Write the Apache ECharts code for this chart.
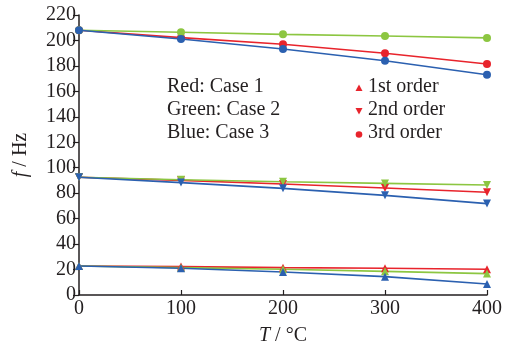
<!DOCTYPE html>
<html><head><meta charset="utf-8">
<script src="https://cdn.jsdelivr.net/npm/echarts@6/dist/echarts.min.js"></script>
<style>html,body{margin:0;padding:0;background:#fff}#c{width:513px;height:343px}</style>
</head><body><div id="c"></div>
<script>
const temps = [0, 100, 200, 300, 400];
// 1st order (triangle up)
const case1_1st = [22.8, 22.3, 21.5, 21.0, 20.2];
const case2_1st = [22.8, 21.5, 20.2, 18.6, 16.8];
const case3_1st = [22.8, 21.0, 18.1, 14.4, 8.6];
// 2nd order (triangle down)
const case1_2nd = [92.5, 90.1, 87.2, 84.1, 80.7];
const case2_2nd = [92.5, 90.6, 89.0, 87.7, 86.4];
const case3_2nd = [92.5, 88.3, 83.8, 78.3, 71.8];
// 3rd order (circle)
const case1_3rd = [208, 202.2, 197.0, 190.0, 181.5];
const case2_3rd = [208, 206.4, 204.8, 203.5, 202.0];
const case3_3rd = [208, 201.2, 193.3, 184.1, 173.1];

const RED = '#e8242c', GREEN = '#8cc641', BLUE = '#2b60b0';
const FONT = 'Liberation Serif';
const TXT = '#231f20';

function mk(vals, color, symbol, rot) {
  return {
    type: 'line',
    data: temps.map((t, i) => [t, vals[i]]),
    symbol: symbol, symbolSize: 8, symbolRotate: rot || 0,
    showSymbol: true, clip: false,
    lineStyle: { color: color, width: 1.6 },
    itemStyle: { color: color },
    z: 3, silent: true, animation: false
  };
}

const chart = echarts.init(document.getElementById('c'), null, { renderer: 'canvas' });
chart.setOption({
  animation: false,
  grid: { left: 79, right: 26, top: 15, bottom: 48, outerBoundsMode: 'none', containLabel: false },
  xAxis: {
    type: 'value', min: 0, max: 400, interval: 100,
    name: '{i|T} / °C', nameLocation: 'middle', nameGap: 31,
    nameTextStyle: { fontFamily: FONT, fontSize: 20, color: TXT,
      rich: { i: { fontFamily: FONT, fontSize: 20, fontStyle: 'italic', color: TXT } } },
    axisLine: { lineStyle: { color: TXT, width: 1.5 } },
    axisTick: { inside: true, length: 5, lineStyle: { color: TXT, width: 1.2 } },
    axisLabel: { fontFamily: FONT, fontSize: 20, color: TXT, margin: 4 },
    splitLine: { show: false }
  },
  yAxis: {
    type: 'value', min: 0, max: 220, interval: 20,
    name: '{i|f} / Hz', nameLocation: 'middle', nameGap: 48, nameRotate: 90,
    nameTextStyle: { fontFamily: FONT, fontSize: 20, color: TXT,
      rich: { i: { fontFamily: FONT, fontSize: 20, fontStyle: 'italic', color: TXT } } },
    axisLine: { show: true, lineStyle: { color: TXT, width: 1.5 } },
    axisTick: { show: true, inside: false, length: 6, lineStyle: { color: TXT, width: 1.2 } },
    axisLabel: { fontFamily: FONT, fontSize: 20, color: TXT, margin: 3 },
    splitLine: { show: false }
  },
  series: [
    mk(case1_1st, RED, 'triangle'),
    mk(case2_1st, GREEN, 'triangle'),
    mk(case3_1st, BLUE, 'triangle'),
    mk(case1_2nd, RED, 'triangle', 180),
    mk(case2_2nd, GREEN, 'triangle', 180),
    mk(case3_2nd, BLUE, 'triangle', 180),
    mk(case1_3rd, RED, 'circle'),
    mk(case2_3rd, GREEN, 'circle'),
    mk(case3_3rd, BLUE, 'circle')
  ],
  graphic: [
    { type: 'text', left: 167, top: 77, style: { text: 'Red: Case 1', font: '20px "Liberation Serif"', fill: TXT } },
    { type: 'text', left: 167, top: 100, style: { text: 'Green: Case 2', font: '20px "Liberation Serif"', fill: TXT } },
    { type: 'text', left: 167, top: 123, style: { text: 'Blue: Case 3', font: '20px "Liberation Serif"', fill: TXT } },
    { type: 'polygon', shape: { points: [[359, 84.5], [355.5, 91], [362.5, 91]] }, style: { fill: RED } },
    { type: 'polygon', shape: { points: [[355.5, 108], [362.5, 108], [359, 114.5]] }, style: { fill: RED } },
    { type: 'circle', shape: { cx: 359, cy: 134.5, r: 3.3 }, style: { fill: RED } },
    { type: 'text', left: 368, top: 77, style: { text: '1st order', font: '20px "Liberation Serif"', fill: TXT } },
    { type: 'text', left: 368, top: 100, style: { text: '2nd order', font: '20px "Liberation Serif"', fill: TXT } },
    { type: 'text', left: 368, top: 123, style: { text: '3rd order', font: '20px "Liberation Serif"', fill: TXT } }
  ]
});
</script></body></html>
